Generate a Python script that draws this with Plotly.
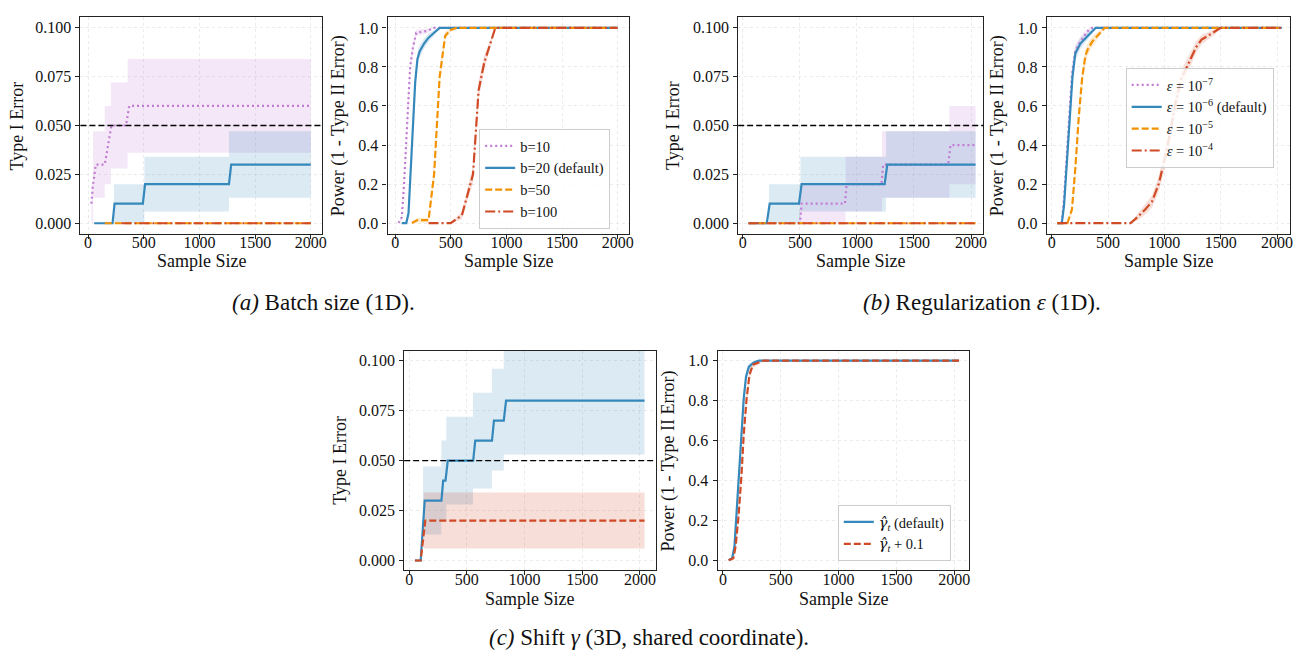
import plotly.graph_objects as go

W, H = 1301, 658
FONT = "Liberation Serif, Times New Roman, serif"

PURPLE = "#c27bd4"
BLUE = "#3588bb"
ORANGE = "#f39200"
RED = "#d04a25"

# ---------------- (a) Batch size (1D) : Type I error ----------------
a1_b10_x = [30, 45, 70, 150, 180, 210, 340, 370, 2000]
a1_b10_y = [0.01, 0.02, 0.03, 0.03, 0.04, 0.05, 0.05, 0.06, 0.06]
a1_b10_bx = [30, 45, 150, 205, 355, 2000]
a1_b10_lo = [0.0, 0.013, 0.020, 0.028, 0.036, 0.036]
a1_b10_hi = [0.020, 0.047, 0.060, 0.072, 0.084, 0.084]

a1_b20_x = [55, 220, 238, 492, 512, 1265, 1285, 2000]
a1_b20_y = [0.0, 0.0, 0.01, 0.01, 0.02, 0.02, 0.03, 0.03]
a1_b20_bx = [55, 232, 506, 1265, 2000]
a1_b20_lo = [0.0, 0.0, 0.006, 0.013, 0.013]
a1_b20_hi = [0.0, 0.020, 0.034, 0.047, 0.047]

a1_b50_x = [150, 2000]
a1_b50_y = [0.0, 0.0]
a1_b100_x = [300, 2000]
a1_b100_y = [0.0, 0.0]

# ---------------- (a) Batch size (1D) : Power ----------------
a2_b10_x = [30, 60, 80, 100, 120, 135, 160, 190, 290, 345, 2000]
a2_b10_y = [0.0, 0.03, 0.2, 0.45, 0.64, 0.8, 0.9, 0.975, 0.985, 1.0, 1.0]
a2_b10_e = [0.0, 0.017, 0.04, 0.05, 0.048, 0.04, 0.03, 0.016, 0.012, 0.0, 0.0]

a2_b20_x = [60, 100, 120, 140, 160, 180, 200, 220, 260, 300, 340, 400, 2000]
a2_b20_y = [0.0, 0.0, 0.05, 0.3, 0.53, 0.72, 0.84, 0.88, 0.92, 0.95, 0.97, 1.0, 1.0]
a2_b20_e = [0.0, 0.0, 0.022, 0.046, 0.05, 0.045, 0.037, 0.032, 0.027, 0.022, 0.017, 0.0, 0.0]

a2_b50_x = [150, 200, 300, 350, 400, 450, 500, 550, 2000]
a2_b50_y = [0.0, 0.015, 0.015, 0.25, 0.75, 0.96, 0.99, 1.0, 1.0]
a2_b50_e = [0.0, 0.012, 0.012, 0.043, 0.043, 0.02, 0.01, 0.0, 0.0]

a2_b100_x = [300, 500, 600, 700, 750, 800, 900, 2000]
a2_b100_y = [0.0, 0.0, 0.04, 0.25, 0.68, 0.82, 1.0, 1.0]
a2_b100_e = [0.0, 0.0, 0.02, 0.043, 0.047, 0.038, 0.0, 0.0]

# ---------------- (b) Regularization eps (1D) : Type I error ----------------
b1_e7_x = [50, 500, 515, 895, 910, 1215, 1230, 1800, 1820, 2040]
b1_e7_y = [0.0, 0.0, 0.01, 0.01, 0.02, 0.02, 0.03, 0.03, 0.04, 0.04]
b1_e7_bx = [500, 900, 1220, 1810, 2040]
b1_e7_lo = [0.0, 0.006, 0.013, 0.020, 0.020]
b1_e7_hi = [0.020, 0.034, 0.047, 0.060, 0.060]

b1_e6_x = [50, 210, 235, 492, 515, 1243, 1266, 2040]
b1_e6_y = [0.0, 0.0, 0.01, 0.01, 0.02, 0.02, 0.03, 0.03]
b1_e6_bx = [50, 230, 505, 1255, 2040]
b1_e6_lo = [0.0, 0.0, 0.006, 0.013, 0.013]
b1_e6_hi = [0.0, 0.020, 0.034, 0.047, 0.047]

b1_e5_x = [50, 2040]
b1_e5_y = [0.0, 0.0]
b1_e4_x = [50, 2040]
b1_e4_y = [0.0, 0.0]

# ---------------- (b) Regularization eps (1D) : Power ----------------
b2_e7_x = [50, 90, 110, 130, 150, 180, 210, 240, 285, 330, 360, 2040]
b2_e7_y = [0.0, 0.0, 0.13, 0.3, 0.5, 0.76, 0.88, 0.915, 0.957, 0.99, 1.0, 1.0]
b2_e7_e = [0.0, 0.0, 0.033, 0.046, 0.05, 0.043, 0.032, 0.028, 0.02, 0.01, 0.0, 0.0]

b2_e6_x = [50, 90, 110, 130, 155, 185, 210, 255, 330, 390, 2040]
b2_e6_y = [0.0, 0.0, 0.09, 0.28, 0.5, 0.75, 0.87, 0.92, 0.965, 1.0, 1.0]
b2_e6_e = [0.0, 0.0, 0.029, 0.045, 0.05, 0.043, 0.034, 0.027, 0.018, 0.0, 0.0]

b2_e5_x = [50, 140, 180, 210, 240, 270, 300, 320, 360, 400, 450, 470, 2040]
b2_e5_y = [0.0, 0.0, 0.07, 0.28, 0.54, 0.74, 0.86, 0.89, 0.93, 0.955, 0.99, 1.0, 1.0]
b2_e5_e = [0.0, 0.0, 0.026, 0.045, 0.05, 0.044, 0.035, 0.031, 0.026, 0.021, 0.01, 0.0, 0.0]

b2_e4_x = [50, 700, 760, 830, 890, 950, 1000, 1050, 1100, 1150, 1200, 1280, 1330, 1390, 1450, 1500, 2040]
b2_e4_y = [0.0, 0.0, 0.03, 0.07, 0.11, 0.2, 0.32, 0.46, 0.62, 0.74, 0.8, 0.9, 0.94, 0.96, 0.98, 1.0, 1.0]
b2_e4_e = [0.0, 0.0, 0.017, 0.026, 0.031, 0.04, 0.047, 0.05, 0.049, 0.044, 0.04, 0.03, 0.024, 0.02, 0.014, 0.0, 0.0]

# ---------------- (c) Shift gamma (3D) : Type I error ----------------
c1_def_x = [50, 100, 135, 280, 295, 315, 335, 555, 573, 718, 735, 820, 840, 2040]
c1_def_y = [0.0, 0.0, 0.03, 0.03, 0.04, 0.04, 0.05, 0.05, 0.06, 0.06, 0.07, 0.07, 0.08, 0.08]
c1_def_bx = [121, 279, 322, 553, 717, 820, 2040]
c1_def_lo = [0.013, 0.020, 0.028, 0.036, 0.045, 0.053, 0.053]
c1_def_hi = [0.047, 0.060, 0.072, 0.084, 0.096, 0.107, 0.107]

c1_p01_x = [50, 100, 140, 2040]
c1_p01_y = [0.0, 0.0, 0.02, 0.02]
c1_p01_bx = [125, 2040]
c1_p01_lo = [0.006, 0.006]
c1_p01_hi = [0.034, 0.034]

# ---------------- (c) Shift gamma (3D) : Power ----------------
c2_def_x = [50, 80, 100, 120, 140, 160, 180, 200, 225, 265, 310, 2040]
c2_def_y = [0.0, 0.01, 0.07, 0.25, 0.42, 0.65, 0.81, 0.92, 0.97, 0.99, 1.0, 1.0]
c2_def_e = [0.0, 0.01, 0.025, 0.043, 0.049, 0.048, 0.039, 0.027, 0.017, 0.01, 0.0, 0.0]

c2_p01_x = [50, 90, 110, 135, 160, 180, 205, 230, 260, 310, 350, 2040]
c2_p01_y = [0.0, 0.01, 0.07, 0.22, 0.42, 0.63, 0.81, 0.93, 0.98, 0.99, 1.0, 1.0]
c2_p01_e = [0.0, 0.01, 0.025, 0.041, 0.049, 0.048, 0.039, 0.026, 0.014, 0.01, 0.0, 0.0]

# tick values / labels
x_ticks = [0, 500, 1000, 1500, 2000]
t1_ticks = [0.0, 0.025, 0.05, 0.075, 0.1]
pw_ticks = [0.0, 0.2, 0.4, 0.6, 0.8, 1.0]

# ---------------- layout geometry (pixels) ----------------
BOXES = {
    1: (72.7, 315, 9, 226),
    2: (381, 623, 9, 226),
    3: (733, 979, 9, 226),
    4: (1042.7, 1287, 9, 226),
    5: (397.7, 650, 342.7, 562.3),
    6: (712.3, 965, 342.7, 562.3),
}
XR = {1: [-68.5, 2098.5], 2: [-68.5, 2098.5], 3: [-41, 2107], 4: [-44, 2115],
      5: [-43, 2135], 6: [-46, 2129]}
YR = {1: [-0.0055, 0.1055], 2: [-0.056, 1.056], 3: [-0.0055, 0.1055], 4: [-0.056, 1.056],
      5: [-0.0049, 0.105], 6: [-0.05, 1.05]}
# axis-title anchor positions (pixels)
YT_X = {1: 9, 2: 332, 3: 667, 4: 993.5, 5: 333.5, 6: 663.5}
XT_Y = {1: 253, 2: 253, 3: 253, 4: 253, 5: 591, 6: 591}


def rgba(hexc, a):
    h = hexc.lstrip("#")
    r, g, b = int(h[0:2], 16), int(h[2:4], 16), int(h[4:6], 16)
    return f"rgba({r},{g},{b},{a})"


DASH = {"dot": "2px,3px", "solid": "solid", "dash": "7px,3px", "dashdot": "10px,3px,2px,3px"}

fig = go.Figure()


def ax(i):
    return ("x" if i == 1 else f"x{i}"), ("y" if i == 1 else f"y{i}")


def step_band(i, bx, lo, hi, color, alpha=0.18):
    xa, ya = ax(i)
    fig.add_trace(go.Scatter(x=bx, y=lo, xaxis=xa, yaxis=ya, mode="lines",
                             line=dict(width=0, shape="hv", color=color),
                             showlegend=False, hoverinfo="skip"))
    fig.add_trace(go.Scatter(x=bx, y=hi, xaxis=xa, yaxis=ya, mode="lines",
                             line=dict(width=0, shape="hv", color=color),
                             fill="tonexty", fillcolor=rgba(color, alpha),
                             showlegend=False, hoverinfo="skip"))


def err_band(i, x, y, e, color, alpha=0.18):
    xa, ya = ax(i)
    lo = [a - b for a, b in zip(y, e)]
    hi = [a + b for a, b in zip(y, e)]
    fig.add_trace(go.Scatter(x=x, y=lo, xaxis=xa, yaxis=ya, mode="lines",
                             line=dict(width=0, color=color),
                             showlegend=False, hoverinfo="skip"))
    fig.add_trace(go.Scatter(x=x, y=hi, xaxis=xa, yaxis=ya, mode="lines",
                             line=dict(width=0, color=color),
                             fill="tonexty", fillcolor=rgba(color, alpha),
                             showlegend=False, hoverinfo="skip"))


def line(i, x, y, color, dash, name=None, legend=None, width=2.2):
    xa, ya = ax(i)
    fig.add_trace(go.Scatter(x=x, y=y, xaxis=xa, yaxis=ya, mode="lines",
                             line=dict(color=color, width=width, dash=DASH[dash]),
                             name=name, showlegend=name is not None,
                             legend=legend, hoverinfo="skip"))


# ---- panel 1
step_band(1, a1_b10_bx, a1_b10_lo, a1_b10_hi, PURPLE)
step_band(1, a1_b20_bx, a1_b20_lo, a1_b20_hi, BLUE)
line(1, a1_b10_x, a1_b10_y, PURPLE, "dot")
line(1, a1_b20_x, a1_b20_y, BLUE, "solid")
line(1, a1_b50_x, a1_b50_y, ORANGE, "dash")
line(1, a1_b100_x, a1_b100_y, RED, "dashdot")

# ---- panel 2
err_band(2, a2_b10_x, a2_b10_y, a2_b10_e, PURPLE)
err_band(2, a2_b20_x, a2_b20_y, a2_b20_e, BLUE)
err_band(2, a2_b50_x, a2_b50_y, a2_b50_e, ORANGE)
err_band(2, a2_b100_x, a2_b100_y, a2_b100_e, RED)
line(2, a2_b10_x, a2_b10_y, PURPLE, "dot", "b=10", "legend")
line(2, a2_b20_x, a2_b20_y, BLUE, "solid", "b=20 (default)", "legend")
line(2, a2_b50_x, a2_b50_y, ORANGE, "dash", "b=50", "legend")
line(2, a2_b100_x, a2_b100_y, RED, "dashdot", "b=100", "legend")

# ---- panel 3
step_band(3, b1_e7_bx, b1_e7_lo, b1_e7_hi, PURPLE)
step_band(3, b1_e6_bx, b1_e6_lo, b1_e6_hi, BLUE)
line(3, b1_e7_x, b1_e7_y, PURPLE, "dot")
line(3, b1_e6_x, b1_e6_y, BLUE, "solid")
line(3, b1_e5_x, b1_e5_y, ORANGE, "dash")
line(3, b1_e4_x, b1_e4_y, RED, "dashdot")

# ---- panel 4
err_band(4, b2_e7_x, b2_e7_y, b2_e7_e, PURPLE)
err_band(4, b2_e6_x, b2_e6_y, b2_e6_e, BLUE)
err_band(4, b2_e5_x, b2_e5_y, b2_e5_e, ORANGE)
err_band(4, b2_e4_x, b2_e4_y, b2_e4_e, RED)
line(4, b2_e7_x, b2_e7_y, PURPLE, "dot", "<i>ε</i> = 10<sup>−7</sup>", "legend2")
line(4, b2_e6_x, b2_e6_y, BLUE, "solid", "<i>ε</i> = 10<sup>−6</sup> (default)", "legend2")
line(4, b2_e5_x, b2_e5_y, ORANGE, "dash", "<i>ε</i> = 10<sup>−5</sup>", "legend2")
line(4, b2_e4_x, b2_e4_y, RED, "dashdot", "<i>ε</i> = 10<sup>−4</sup>", "legend2")

# ---- panel 5
step_band(5, c1_def_bx, c1_def_lo, c1_def_hi, BLUE)
step_band(5, c1_p01_bx, c1_p01_lo, c1_p01_hi, RED)
line(5, c1_def_x, c1_def_y, BLUE, "solid")
line(5, c1_p01_x, c1_p01_y, RED, "dash")

# ---- panel 6
GHAT = "<span style=\"font-family:'DejaVu Serif'\"><i>γ̂</i></span><sub><i>t</i></sub>"
err_band(6, c2_def_x, c2_def_y, c2_def_e, BLUE)
err_band(6, c2_p01_x, c2_p01_y, c2_p01_e, RED)
line(6, c2_def_x, c2_def_y, BLUE, "solid", GHAT + " (default)", "legend3")
line(6, c2_p01_x, c2_p01_y, RED, "dash", GHAT + " + 0.1", "legend3")

# ---------------- axes ----------------
axis_common = dict(showline=True, linecolor="#222222", linewidth=1.1, mirror=True,
                   ticks="outside", ticklen=4, tickcolor="#222222", tickwidth=1,
                   showgrid=True, gridcolor="#ebebeb", griddash="dot", gridwidth=0.8,
                   zeroline=False, tickfont=dict(family=FONT, size=16, color="#111111"))
layout = {}
for i, (x0, x1, y0, y1) in BOXES.items():
    xa, ya = ax(i)
    xk = "xaxis" if i == 1 else f"xaxis{i}"
    yk = "yaxis" if i == 1 else f"yaxis{i}"
    is_t1 = i in (1, 3, 5)
    layout[xk] = dict(axis_common, domain=[x0 / W, x1 / W], anchor=ya, range=XR[i],
                      tickvals=x_ticks, ticktext=[str(v) for v in x_ticks],
                      ticklabelstandoff=-10)
    layout[yk] = dict(axis_common, domain=[1 - y1 / H, 1 - y0 / H], anchor=xa, range=YR[i],
                      tickvals=t1_ticks if is_t1 else pw_ticks,
                      ticktext=[f"{v:.3f}" for v in t1_ticks] if is_t1 else [f"{v:.1f}" for v in pw_ticks],
                      ticklabelstandoff=1)
    # axis titles as positioned text
    fig.add_annotation(text="Sample Size", xref="paper", yref="paper",
                       x=(x0 + x1) / 2 / W, y=1 - XT_Y[i] / H, xanchor="center", yanchor="middle",
                       showarrow=False, font=dict(family=FONT, size=18, color="#111111"))
    fig.add_annotation(text="Type I Error" if is_t1 else "Power (1 - Type II Error)",
                       xref="paper", yref="paper", textangle=-90,
                       x=YT_X[i] / W, y=1 - (y0 + y1) / 2 / H, xanchor="center", yanchor="middle",
                       showarrow=False, font=dict(family=FONT, size=18, color="#111111"))

fig.update_layout(**layout)

# 0.05 reference lines
for i in (1, 3, 5):
    xa, ya = ax(i)
    fig.add_shape(type="line", xref=f"{xa} domain", yref=ya, x0=0, x1=1, y0=0.05, y1=0.05,
                  line=dict(color="black", width=1.4, dash="6px,3px"), layer="above")

legend_common = dict(bgcolor="rgba(255,255,255,0.85)", bordercolor="#cccccc", borderwidth=1,
                     font=dict(family=FONT, size=14.5, color="#111111"),
                     xanchor="left", yanchor="top", tracegroupgap=0, itemwidth=30,
                     traceorder="normal")

fig.update_layout(
    width=W, height=H, autosize=False,
    margin=dict(l=0, r=0, t=0, b=0),
    paper_bgcolor="white", plot_bgcolor="white",
    font=dict(family=FONT, color="#111111"),
    legend=dict(legend_common, x=473 / W, y=1 - 121 / H),
    legend2=dict(legend_common, x=1122 / W, y=1 - 60 / H),
    legend3=dict(legend_common, x=833 / W, y=1 - 497 / H),
)

captions = [
    ("<i>(a)</i> Batch size (1D).", 317, 294),
    ("<i>(b)</i> Regularization <i>ε</i> (1D).", 978, 294),
    ("<i>(c)</i> Shift <i>γ</i> (3D, shared coordinate).", 643, 629),
]
for text, cx, cy in captions:
    fig.add_annotation(text=text, xref="paper", yref="paper", x=cx / W, y=1 - cy / H,
                       xanchor="center", yanchor="middle", showarrow=False,
                       font=dict(family=FONT, size=23, color="#111111"))

fig.write_html("out.html")
